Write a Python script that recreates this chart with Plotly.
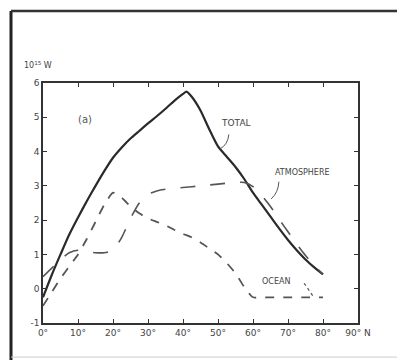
import plotly.graph_objects as go

# Latitude grid (degrees N)
lat_total = [0, 2.5, 5, 7.5, 10, 12.5, 15, 17.5, 20, 22.5, 25, 27.5, 30, 32.5, 35, 37.5, 40, 41,
             42.5, 45, 47.5, 50, 52.5, 55, 57.5, 60, 62.5, 65, 67.5, 70, 72.5, 75, 77.5, 80]
total = [-0.25, 0.4, 1.0, 1.58, 2.08, 2.55, 3.0, 3.43, 3.82, 4.12, 4.38, 4.6, 4.82, 5.03, 5.25, 5.48, 5.68, 5.75,
         5.6, 5.2, 4.65, 4.15, 3.85, 3.55, 3.2, 2.8, 2.45, 2.1, 1.75, 1.42, 1.12, 0.85, 0.62, 0.42]

lat_atm = [0, 2.5, 5, 7.5, 10, 12.5, 15, 17.5, 20, 22.5, 25, 27.5, 30, 32.5, 35, 40, 45, 50, 55,
           57.5, 60, 62.5, 65, 67.5, 70, 72.5, 75, 77.5, 80]
atmosphere = [0.35, 0.6, 0.85, 1.05, 1.12, 1.08, 1.05, 1.05, 1.12, 1.5, 2.05, 2.5, 2.75, 2.85, 2.9,
              2.95, 3.0, 3.05, 3.1, 3.1, 2.98, 2.72, 2.4, 2.02, 1.66, 1.3, 0.97, 0.68, 0.42]

lat_ocean = [0, 2.5, 5, 7.5, 10, 12.5, 15, 17.5, 20, 22.5, 25, 27.5, 30, 32.5, 35, 37.5, 40, 42.5,
             45, 47.5, 50, 52.5, 55, 57.5, 60, 65, 70, 75, 80]
ocean = [-0.5, -0.1, 0.3, 0.65, 1.0, 1.45, 1.95, 2.45, 2.8, 2.65, 2.4, 2.2, 2.05, 1.95, 1.85, 1.72,
         1.6, 1.5, 1.35, 1.18, 1.0, 0.75, 0.45, 0.05, -0.25, -0.25, -0.25, -0.25, -0.25]

x_tickvals = [0, 10, 20, 30, 40, 50, 60, 70, 80, 90]
x_ticktext = ["0°", "10°", "20°", "30°", "40°", "50°", "60°", "70°", "80°", "90° N"]
y_tickvals = [-1, 0, 1, 2, 3, 4, 5, 6]
y_ticktext = ["-1", "0", "1", "2", "3", "4", "5", "6"]

ink = "#333333"
font = dict(family="DejaVu Sans", size=9, color="#444444")

fig = go.Figure()
fig.add_trace(go.Scatter(x=lat_total, y=total, mode="lines", name="TOTAL",
                         line=dict(color="#2a2a2a", width=2.2, shape="spline", smoothing=0.6)))
fig.add_trace(go.Scatter(x=lat_atm, y=atmosphere, mode="lines", name="ATMOSPHERE",
                         line=dict(color="#555555", width=1.6, dash="longdash", shape="spline", smoothing=0.6)))
fig.add_trace(go.Scatter(x=lat_ocean, y=ocean, mode="lines", name="OCEAN",
                         line=dict(color="#555555", width=1.8, dash="dash", shape="spline", smoothing=0.5)))

annos = [
    dict(x=12, y=4.95, text="(a)", showarrow=False, font=dict(family="DejaVu Sans", size=10, color="#555")),
    dict(x=55.1, y=4.83, text="TOTAL", showarrow=False, font=font),
    dict(x=74, y=3.4, text="ATMOSPHERE", showarrow=False, font=dict(family="DejaVu Sans", size=8, color="#444")),
    dict(x=66.6, y=0.22, text="OCEAN", showarrow=False, font=dict(family="DejaVu Sans", size=8, color="#444")),
    dict(x=-0.016, y=1.075, xref="paper", yref="paper", xanchor="center", yanchor="middle",
         text="10<sup>15</sup> W", showarrow=False,
         font=dict(family="DejaVu Sans", size=8, color="#444")),
]

shapes = [
    # label leaders
    dict(type="path", xref="x", yref="y", path="M 53.1 4.5 Q 52.8 4.2 50.6 4.08",
         line=dict(color="#555", width=1)),
    dict(type="path", xref="x", yref="y", path="M 67.4 3.12 Q 67.2 2.8 65.2 2.62",
         line=dict(color="#555", width=1)),
    dict(type="line", xref="x", yref="y", x0=74.6, y0=0.16, x1=77.4, y1=-0.25,
         line=dict(color="#555", width=1.2, dash="dot")),
    # scan frame
    dict(type="line", xref="paper", yref="paper", x0=-0.1016, y0=1.3, x1=-0.1016, y1=-0.16,
         line=dict(color="#222", width=3)),
    dict(type="line", xref="paper", yref="paper", x0=-0.1016, y0=1.3, x1=1.13, y1=1.3,
         line=dict(color="#333", width=2.5)),
    dict(type="line", xref="paper", yref="paper", x0=-0.1016, y0=-0.142, x1=1.13, y1=-0.142,
         line=dict(color="#cccccc", width=1)),
]

axis_common = dict(showline=True, mirror="ticks", linecolor=ink, linewidth=1.6, ticks="inside",
                   ticklen=4, tickcolor=ink, showgrid=False, zeroline=False, tickfont=font)

fig.update_layout(
    width=397, height=360,
    margin=dict(l=43, r=39, t=83, b=37),
    paper_bgcolor="white", plot_bgcolor="white",
    showlegend=False,
    xaxis=dict(range=[0, 90], tickvals=x_tickvals, ticktext=x_ticktext, **axis_common),
    yaxis=dict(range=[-1, 6], tickvals=y_tickvals, ticktext=y_ticktext, **axis_common),
    annotations=annos,
    shapes=shapes,
)

fig.write_html("out.html")
